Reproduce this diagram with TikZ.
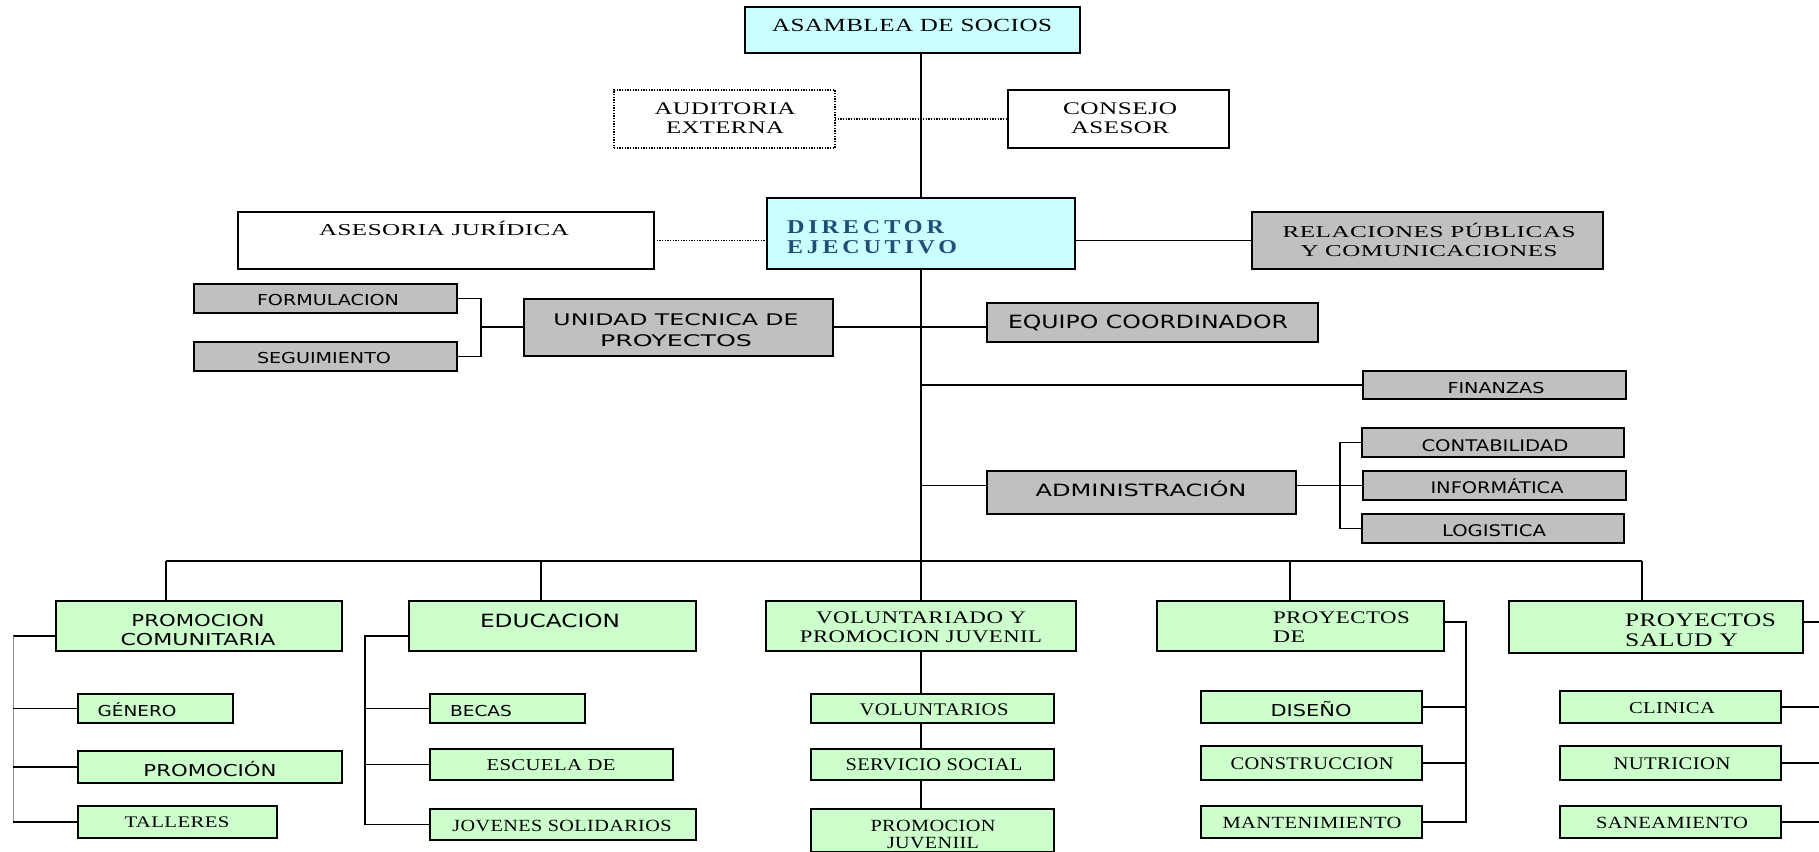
\documentclass[tikz,border=0pt]{standalone}
\usepackage{fontspec}
\usepackage{graphicx}
\setmainfont{Liberation Serif}[LetterSpace=2]
\newfontfamily\sansf{DejaVu Sans}
\newfontfamily\dirf{Liberation Serif}[LetterSpace=16]
\usetikzlibrary{fit}
\newdimen\pxu \pxu=0.75pt
\newcommand\sx[2]{\resizebox{#1\pxu}{\height}{#2}}
\newcommand\fs[2]{\fontsize{#1}{#2}\selectfont}
\definecolor{cyanf}{HTML}{CCFFFF}
\definecolor{grayf}{HTML}{C0C0C0}
\definecolor{greenf}{HTML}{CCFFCC}
\definecolor{dirblue}{HTML}{1F4E79}
\begin{document}
\begin{tikzpicture}[x=0.75pt,y=-0.75pt,
  box/.style={draw=black, line width=1pt, inner sep=0pt, outer sep=0pt},
  cbox/.style={box, fill=cyanf},
  wbox/.style={box, fill=white},
  dbox/.style={draw=black, line width=0.8pt, dash pattern=on 1pt off 1pt, inner sep=0pt, outer sep=0pt, fill=white},
  gbox/.style={box, fill=grayf},
  lbox/.style={box, fill=greenf},
  txt/.style={inner sep=0pt, outer sep=0pt, align=center, text=black},
  conn/.style={line width=1pt, draw=black},
  dotc/.style={line width=0.8pt, dash pattern=on 1pt off 1pt},
  thinc/.style={line width=0.6pt, draw=black!45},
]
\useasboundingbox (0,0) rectangle (1819,852);
\fill[white] (0,0) rectangle (1819,852);

% ---------- boxes ----------
\node[cbox, fit={(745,7)(1080,53)}] (asamblea) {};
\node[dbox, fit={(614,90)(835,148)}] (auditoria) {};
\node[wbox, fit={(1008,90)(1229,148)}] (consejo) {};
\node[cbox, fit={(767,198)(1075,269)}] (director) {};
\node[wbox, fit={(238,212)(654,269)}] (asesoria) {};
\node[gbox, fit={(1252,212)(1603,269)}] (relaciones) {};
\node[gbox, fit={(194,284)(457,313)}] (formulacion) {};
\node[gbox, fit={(194,342)(457,371)}] (seguimiento) {};
\node[gbox, fit={(524,299)(833,356)}] (unidad) {};
\node[gbox, fit={(987,303)(1318,342)}] (equipo) {};
\node[gbox, fit={(1363,371)(1626,399)}] (finanzas) {};
\node[gbox, fit={(1362,428)(1624,457)}] (contabilidad) {};
\node[gbox, fit={(1363,471)(1626,500)}] (informatica) {};
\node[gbox, fit={(1362,514)(1624,543)}] (logistica) {};
\node[gbox, fit={(987,471)(1296,514)}] (admin) {};

\node[lbox, fit={(56,601)(342,651)}] (pc) {};
\node[lbox, fit={(409,601)(696,651)}] (edu) {};
\node[lbox, fit={(766,601)(1076,651)}] (vol) {};
\node[lbox, fit={(1157,601)(1444,651)}] (pd) {};
\node[lbox, fit={(1509,601)(1803,653)}] (ps) {};

\node[lbox, fit={(78,694)(233,723)}] (genero) {};
\node[lbox, fit={(78,751)(342,783)}] (promo) {};
\node[lbox, fit={(78,806)(277,838)}] (talleres) {};
\node[lbox, fit={(430,694)(585,723)}] (becas) {};
\node[lbox, fit={(430,749)(673,780)}] (escuela) {};
\node[lbox, fit={(430,809)(696,840)}] (jovenes) {};
\node[lbox, fit={(811,694)(1054,723)}] (voluntarios) {};
\node[lbox, fit={(811,749)(1054,780)}] (servicio) {};
\node[lbox, fit={(811,809)(1054,852)}] (promjuv) {};
\node[lbox, fit={(1201,691)(1422,723)}] (diseno) {};
\node[lbox, fit={(1201,746)(1422,780)}] (construccion) {};
\node[lbox, fit={(1201,806)(1422,838)}] (mantenimiento) {};
\node[lbox, fit={(1560,691)(1781,723)}] (clinica) {};
\node[lbox, fit={(1560,746)(1781,780)}] (nutricion) {};
\node[lbox, fit={(1560,806)(1781,838)}] (saneamiento) {};

% ---------- texts ----------
\node[txt, anchor=base, font=\fs{13.9}{16}] (t-asamblea) at (912,32) {\sx{280}{ASAMBLEA DE SOCIOS}};
\node[txt, font=\fs{13.3}{14.5}] (t-auditoria) at (725,118) {\sx{141}{AUDITORIA}\\\sx{118}{EXTERNA}};
\node[txt, font=\fs{13.3}{14.5}] (t-consejo) at (1120,118) {\sx{114}{CONSEJO}\\\sx{98}{ASESOR}};
\node[txt, anchor=west, align=left, text=dirblue, font=\dirf\bfseries\fs{14.7}{15.5}] (t-director) at (787,237) {\sx{157}{DIRECTOR}\\\sx{170}{EJECUTIVO}};
\node[txt, anchor=base, font=\fs{12.5}{14}] (t-asesoria) at (444,236) {\sx{250}{ASESORIA JURÍDICA}};
\node[txt, font=\fs{12.5}{14.5}] (t-relaciones) at (1429,240) {\sx{293}{RELACIONES PÚBLICAS}\\\sx{257}{Y COMUNICACIONES}};
\node[txt, anchor=base, font=\sansf\fs{11.3}{13}] (t-formulacion) at (328,305) {\sx{142}{FORMULACION}};
\node[txt, anchor=base, font=\sansf\fs{11.3}{13}] (t-seguimiento) at (324,363) {\sx{134}{SEGUIMIENTO}};
\node[txt, font=\sansf\fs{12}{16}] (t-unidad) at (676,330) {\sx{245}{UNIDAD TECNICA DE}\\\sx{152}{PROYECTOS}};
\node[txt, anchor=base, font=\sansf\fs{13.7}{15}] (t-equipo) at (1148,328) {\sx{280}{EQUIPO COORDINADOR}};
\node[txt, anchor=base, font=\sansf\fs{11.3}{13}] (t-finanzas) at (1496,393) {\sx{97}{FINANZAS}};
\node[txt, anchor=base, font=\sansf\fs{12}{13}] (t-contabilidad) at (1495,451) {\sx{147}{CONTABILIDAD}};
\node[txt, anchor=base, font=\sansf\fs{12}{13}] (t-informatica) at (1497,493) {\sx{133}{INFORMÁTICA}};
\node[txt, anchor=base, font=\sansf\fs{12}{13}] (t-logistica) at (1494,536) {\sx{104}{LOGISTICA}};
\node[txt, anchor=base, font=\sansf\fs{12.7}{14}] (t-admin) at (1141,496) {\sx{211}{ADMINISTRACIÓN}};

\node[txt, font=\sansf\fs{12.3}{14.5}] (t-pc) at (198,630) {\sx{133}{PROMOCION}\\\sx{155}{COMUNITARIA}};
\node[txt, anchor=base, font=\sansf\fs{13.7}{15}] (t-edu) at (550,627) {\sx{140}{EDUCACION}};
\node[txt, font=\fs{13.3}{14.4}] (t-vol) at (921,627) {\sx{210}{VOLUNTARIADO Y}\\\sx{242}{PROMOCION JUVENIL}};
\node[txt, anchor=west, align=left, font=\fs{13.3}{14.4}] (t-pd) at (1273,627) {\sx{137}{PROYECTOS}\\\sx{32}{DE}};
\node[txt, anchor=west, align=left, font=\fs{14.4}{14.8}] (t-ps) at (1625,630) {\sx{151}{PROYECTOS}\\\sx{113}{SALUD Y}};

\node[txt, anchor=base, font=\sansf\fs{11.3}{13}] (t-genero) at (137,716) {\sx{79}{GÉNERO}};
\node[txt, anchor=base, font=\sansf\fs{12.3}{14}] (t-promo) at (210,776) {\sx{133}{PROMOCIÓN}};
\node[txt, anchor=base, font=\fs{12.1}{14}] (t-talleres) at (177,827) {\sx{105}{TALLERES}};
\node[txt, anchor=base, font=\sansf\fs{11.3}{13}] (t-becas) at (481,716) {\sx{62}{BECAS}};
\node[txt, anchor=base, font=\fs{12.5}{14}] (t-escuela) at (551,770) {\sx{129}{ESCUELA DE}};
\node[txt, anchor=base, font=\fs{12.8}{14}] (t-jovenes) at (562,831) {\sx{219}{JOVENES SOLIDARIOS}};
\node[txt, anchor=base, font=\fs{13.3}{14}] (t-voluntarios) at (934,715) {\sx{149}{VOLUNTARIOS}};
\node[txt, anchor=base, font=\fs{13.3}{14}] (t-servicio) at (934,770) {\sx{177}{SERVICIO SOCIAL}};
\node[txt, font=\fs{12.8}{12.75}] (t-promjuv) at (933,834) {\sx{125}{PROMOCION}\\\sx{92}{JUVENIIL}};
\node[txt, anchor=base, font=\sansf\fs{12.3}{14}] (t-diseno) at (1311,716) {\sx{81}{DISEÑO}};
\node[txt, anchor=base, font=\fs{13.3}{14}] (t-construccion) at (1312,769) {\sx{163}{CONSTRUCCION}};
\node[txt, anchor=base, font=\fs{12.8}{14}] (t-mantenimiento) at (1312,828) {\sx{179}{MANTENIMIENTO}};
\node[txt, anchor=base, font=\fs{12.5}{14}] (t-clinica) at (1672,713) {\sx{86}{CLINICA}};
\node[txt, anchor=base, font=\fs{13.3}{14}] (t-nutricion) at (1672,769) {\sx{117}{NUTRICION}};
\node[txt, anchor=base, font=\fs{12.8}{14}] (t-saneamiento) at (1672,828) {\sx{152}{SANEAMIENTO}};

% ---------- connectors ----------
\coordinate (bl) at (166,561);
\coordinate (be) at (541,561);
\coordinate (bc) at (921,561);
\coordinate (bp) at (1290,561);
\coordinate (br) at (1642,561);

\draw[conn] (director.north) -- (director.north |- asamblea.south);
\draw[dotc] (auditoria.east) -- (consejo.west);
\draw[dotc] (asesoria.east) -- (asesoria.east -| director.west);
\draw[conn] (relaciones.west -| director.east) -- (relaciones.west);
\draw[conn] (director.south) -- (bc);

\coordinate (ul) at (481,327);
\draw[conn] (formulacion.east) -| (ul) |- (seguimiento.east);
\draw[conn] (ul) -- (unidad.west |- ul);
\draw[conn] (unidad.east |- ul) -- (ul -| equipo.west);
\draw[conn] (finanzas.west -| director.south) -- (finanzas.west);
\draw[conn] (informatica.west -| director.south) -- (informatica.west -| admin.west);
\draw[conn] (informatica.west -| admin.east) -- (informatica.west);
\coordinate (ab) at (1340,486);
\draw[conn] (contabilidad.west) -| (ab) |- (logistica.west);

\draw[conn] (bl) -- (br);
\draw[conn] (bl) -- (bl |- pc.north);
\draw[conn] (be) -- (be |- edu.north);
\draw[conn] (bc) -- (vol.north);
\draw[conn] (bp) -- (bp |- pd.north);
\draw[conn] (br) -- (br |- ps.north);

\coordinate (pl) at (13,636);
\draw[conn] (pc.west |- pl) -- (pl);
\draw[thinc] (pl) -- (pl |- talleres.west);
\draw[conn] (pl |- genero.west) -- (genero.west);
\draw[conn] (pl |- promo.west) -- (promo.west);
\draw[conn] (pl |- talleres.west) -- (talleres.west);

\coordinate (el) at (365,636);
\draw[conn] (edu.west |- el) -- (el) -- (el |- jovenes.west) -- (jovenes.west);
\draw[conn] (el |- becas.west) -- (becas.west);
\draw[conn] (el |- escuela.west) -- (escuela.west);

\draw[conn] (vol.south) -- (vol.south |- voluntarios.north);
\draw[conn] (vol.south |- voluntarios.south) -- (vol.south |- servicio.north);
\draw[conn] (vol.south |- servicio.south) -- (vol.south |- promjuv.north);

\coordinate (pr) at (1466,622);
\draw[conn] (pd.east |- pr) -- (pr) -- (pr |- mantenimiento.east) -- (mantenimiento.east);
\draw[conn] (pr |- diseno.east) -- (diseno.east);
\draw[conn] (pr |- construccion.east) -- (construccion.east);

\coordinate (sr) at (1819,622);
\draw[conn] (ps.east |- sr) -- (sr);
\draw[conn] (clinica.east) -- (clinica.east -| sr);
\draw[conn] (nutricion.east) -- (nutricion.east -| sr);
\draw[conn] (saneamiento.east) -- (saneamiento.east -| sr);
\end{tikzpicture}
\end{document}
